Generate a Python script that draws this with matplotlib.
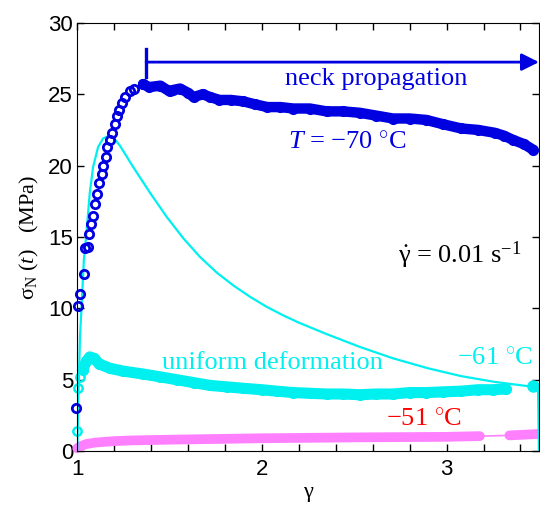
import matplotlib
matplotlib.use("Agg")
import matplotlib.pyplot as plt

# T = -70 C : open circles, rising part then neck plateau
blue_rise_x = [0.995, 1.005, 1.014, 1.036, 1.040, 1.060, 1.065, 1.074, 1.086, 1.095, 1.108,
               1.119, 1.132, 1.141, 1.155, 1.162, 1.177, 1.191, 1.204, 1.216, 1.227,
               1.240, 1.258, 1.285, 1.310, 1.357]
blue_rise_y = [3.0, 10.2, 11.0, 12.4, 14.2, 14.3, 15.2, 15.9, 16.5, 17.3, 18.0,
               18.8, 19.4, 20.0, 20.6, 21.3, 21.8, 22.3, 22.9, 23.5, 23.9,
               24.4, 24.8, 25.2, 25.4, 25.7]
blue_plat_x = [1.357, 1.39, 1.45, 1.50, 1.52, 1.557, 1.60, 1.63, 1.68, 1.72, 1.77, 1.83,
               1.90, 1.96, 2.03, 2.10, 2.17, 2.26, 2.35, 2.44, 2.53, 2.62, 2.71,
               2.80, 2.89, 2.98, 3.08, 3.17, 3.26, 3.31, 3.36, 3.42, 3.47]
blue_plat_y = [25.7, 25.5, 25.6, 25.2, 25.3, 25.4, 25.1, 24.8, 25.0, 24.8, 24.6, 24.6,
               24.5, 24.3, 24.1, 24.1, 24.0, 24.0, 23.8, 23.8, 23.7, 23.5, 23.3,
               23.3, 23.2, 22.9, 22.6, 22.5, 22.3, 22.1, 21.8, 21.5, 21.1]

# T = -61 C : measured points
cyan_rise_x = [1.000, 1.005, 1.014, 1.029]
cyan_rise_y = [1.4, 4.4, 5.2, 5.7]
cyan_band_x = [1.029, 1.05, 1.068, 1.09, 1.12, 1.177, 1.25, 1.357, 1.45, 1.54, 1.63, 1.72,
               1.81, 1.90, 2.00, 2.08, 2.17, 2.26, 2.35, 2.44, 2.53, 2.62, 2.71,
               2.80, 2.89, 2.98, 3.08, 3.17, 3.25, 3.32]
cyan_band_y = [5.7, 6.3, 6.6, 6.5, 6.1, 5.8, 5.6, 5.4, 5.2, 5.0, 4.8, 4.6,
               4.5, 4.4, 4.3, 4.2, 4.1, 4.05, 4.0, 4.0, 3.95, 4.0, 4.0,
               4.1, 4.1, 4.15, 4.2, 4.3, 4.3, 4.35]
cyan_tail_x = [3.47]
cyan_tail_y = [4.55]

# thin cyan curve
curve_x = [1.000, 1.005, 1.015, 1.023, 1.036, 1.050, 1.068, 1.086, 1.113, 1.140, 1.173,
           1.20, 1.231, 1.265, 1.303, 1.394, 1.485, 1.575, 1.665, 1.756, 1.846, 1.937,
           2.027, 2.117, 2.20, 2.35, 2.53, 2.71, 2.90, 3.08, 3.26, 3.44, 3.495, 3.50]
curve_y = [0.0, 3.0, 8.0, 10.0, 13.4, 15.3, 18.1, 19.9, 21.3, 21.9, 22.1,
           21.9, 21.4, 20.7, 19.9, 18.1, 16.4, 14.9, 13.6, 12.5, 11.6, 10.8,
           10.1, 9.5, 9.0, 8.2, 7.3, 6.5, 5.8, 5.25, 4.85, 4.55, 4.5, 0.0]

# T = -51 C
mag1_x = [1.0, 1.02, 1.05, 1.1, 1.2, 1.3, 1.5, 1.75, 2.0, 2.25, 2.5, 2.75, 3.0, 3.18]
mag1_y = [0.2, 0.35, 0.5, 0.6, 0.7, 0.75, 0.8, 0.85, 0.9, 0.93, 0.96, 0.98, 1.0, 1.05]
mag2_x = [3.34, 3.42, 3.5]
mag2_y = [1.1, 1.15, 1.2]

BLUE = "#0000e0"
CYAN = "#00f0f0"
MAG = "#ff80ff"
RED = "#ff0000"

plt.rcParams["mathtext.fontset"] = "custom"
plt.rcParams["mathtext.rm"] = "Liberation Serif"
plt.rcParams["mathtext.it"] = "Liberation Serif:italic"
SERIF = "Liberation Serif"

fig = plt.figure(figsize=(5.4, 5.08), dpi=100)
ax = fig.add_axes([0.143, 0.112, 0.855, 0.843])

# magenta
ax.plot(mag1_x + mag2_x, mag1_y + mag2_y, color=MAG, lw=1.2)
ax.plot(mag1_x, mag1_y, color=MAG, lw=7, solid_capstyle="round", clip_on=False)
ax.plot(mag2_x, mag2_y, color=MAG, lw=7, solid_capstyle="round")

# cyan curve + markers
ax.plot(curve_x, curve_y, color=CYAN, lw=1.6)
ax.plot(cyan_band_x, cyan_band_y, color=CYAN, lw=8, solid_capstyle="round")
ax.plot(cyan_band_x, cyan_band_y, "o", ms=6, mfc="none", mec=CYAN, mew=2)
ax.plot(cyan_rise_x, cyan_rise_y, "o", ms=6, mfc="none", mec=CYAN, mew=1.8, clip_on=False)
ax.plot(cyan_tail_x, cyan_tail_y, "o", ms=8, color=CYAN)

# blue
ax.plot(blue_plat_x, blue_plat_y, color=BLUE, lw=7.5, solid_capstyle="round")
ax.plot(blue_plat_x, blue_plat_y, "o", ms=6, mfc="none", mec=BLUE, mew=2)
ax.plot(blue_rise_x, blue_rise_y, "o", ms=6, mfc="none", mec=BLUE, mew=2, clip_on=False)

# neck propagation arrow
ax.plot([1.373, 1.373], [26.2, 28.2], color=BLUE, lw=2.4)
ax.annotate("", xy=(3.5, 27.25), xytext=(1.373, 27.25),
            arrowprops=dict(arrowstyle="-|>", mutation_scale=26, lw=2, color=BLUE,
                            shrinkA=0, shrinkB=0), annotation_clip=False)

ax.text(2.62, 26.1, "neck propagation", color=BLUE, fontsize=19, family=SERIF,
        ha="center", va="center")
ax.text(2.14, 21.6, r"$T$ = $-$70 $^{\circ}$C", color=BLUE, fontsize=19, family=SERIF,
        ha="left", va="center")
ax.text(2.735, 13.7, r"$\dot{\mathrm{\gamma}}$ = 0.01 s$^{-1}$", color="black", fontsize=19,
        family=SERIF, ha="left", va="center")
ax.text(1.46, 6.2, "uniform deformation", color=CYAN, fontsize=19, family=SERIF,
        ha="left", va="center")
ax.text(3.055, 6.5, r"$-$61 $^{\circ}$C", color=CYAN, fontsize=19, family=SERIF,
        ha="left", va="center")
ax.text(2.67, 2.2, r"$-$51 $^{\circ}$C", color=RED, fontsize=19, family=SERIF,
        ha="left", va="center")

ax.set_xlim(1, 3.5)
ax.set_ylim(0, 30)
ax.set_xticks([1, 2, 3])
ax.set_xticks([1.2, 1.4, 1.6, 1.8, 2.2, 2.4, 2.6, 2.8, 3.2, 3.4], minor=True)
ax.set_yticks([0, 5, 10, 15, 20, 25, 30])
ax.tick_params(which="both", direction="in", top=True, right=True, length=5, width=1)
ax.tick_params(axis="x", labelsize=16, pad=6)
ax.tick_params(axis="y", labelsize=16, pad=3)
for lab in ax.get_xticklabels() + ax.get_yticklabels():
    lab.set_family("Liberation Sans")

ax.set_xlabel("γ", fontsize=16, family=SERIF, labelpad=2)
ax.set_ylabel(r"σ$_\mathrm{N}$ ($t$)   (MPa)", fontsize=16, family=SERIF, labelpad=5)

fig.savefig("out.png", dpi=100)
